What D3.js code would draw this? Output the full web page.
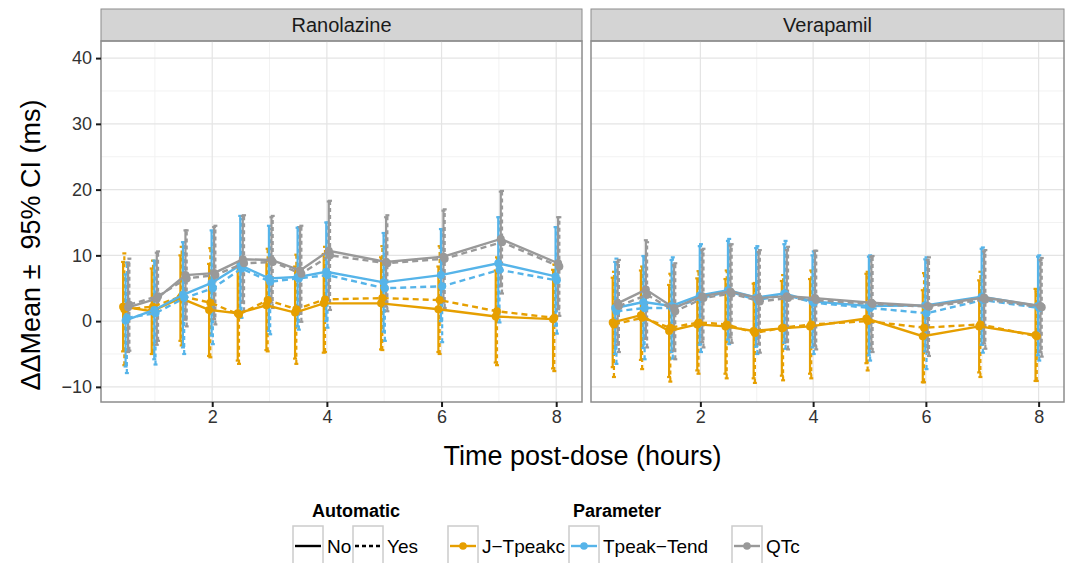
<!DOCTYPE html>
<html>
<head>
<meta charset="utf-8">
<script src="https://cdn.jsdelivr.net/npm/d3@7/dist/d3.min.js"></script>
<style>
  html, body { margin: 0; padding: 0; background: #fff; }
  svg { display: block; font-family: "Liberation Sans", Arial, sans-serif; }
</style>
</head>
<body>
<script>
// --- data ---
const TIMES = [0.5, 1, 1.5, 2, 2.5, 3, 3.5, 4, 5, 6, 7, 8];
const PANELS = ["Ranolazine", "Verapamil"];
const PARAMS = ["J\u2212Tpeakc", "Tpeak\u2212Tend", "QTc"];
const AUTOMATIC = ["No", "Yes"];
const X_TICKS = [2, 4, 6, 8];
const Y_TICKS = [-10, 0, 10, 20, 30, 40];

// Ranolazine means and CI half-widths
const RAN_JT_NO = [2.2, 1.5, 3.5, 1.7, 1.2, 2.4, 1.3, 2.7, 2.7, 1.8, 0.7, 0.3];
const RAN_JT_NO_CI = [6.8, 6.5, 6.5, 7.0, 7.2, 6.8, 7.0, 7.5, 7.0, 6.5, 7.0, 7.5];
const RAN_JT_YES = [1.8, 2.2, 3.8, 2.8, 1.0, 3.2, 1.8, 3.3, 3.5, 3.2, 1.5, 0.5];
const RAN_JT_YES_CI = [8.5, 7.0, 7.5, 8.3, 7.5, 7.8, 8.3, 8.0, 7.9, 8.2, 8.2, 8.1];
const RAN_TT_NO = [0.1, 1.7, 4.0, 5.8, 8.5, 6.5, 6.7, 7.5, 5.9, 7.0, 8.8, 6.8];
const RAN_TT_NO_CI = [7.0, 7.5, 8.0, 8.0, 7.5, 8.0, 7.5, 7.5, 7.5, 7.0, 7.0, 7.5];
const RAN_TT_YES = [0.5, 1.2, 3.5, 5.0, 8.0, 6.0, 6.5, 7.0, 5.0, 5.3, 7.8, 6.2];
const RAN_TT_YES_CI = [8.4, 7.8, 8.5, 8.5, 7.5, 8.0, 7.8, 8.0, 8.0, 8.5, 8.0, 8.1];
const RAN_QT_NO = [2.1, 3.4, 7.0, 7.3, 9.4, 9.3, 7.7, 10.7, 9.0, 9.8, 12.5, 8.8];
const RAN_QT_NO_CI = [6.8, 7.0, 6.8, 7.0, 6.6, 6.5, 6.6, 7.5, 6.8, 7.0, 7.2, 7.0];
const RAN_QT_YES = [2.5, 3.8, 6.5, 7.0, 8.8, 9.0, 7.2, 10.0, 8.8, 9.5, 12.0, 8.3];
const RAN_QT_YES_CI = [7.0, 6.8, 7.3, 7.5, 7.3, 7.0, 7.3, 8.3, 7.3, 7.5, 7.8, 7.5];

// Verapamil means and CI half-widths
const VER_JT_NO = [-0.2, 0.9, -1.5, -0.5, -0.8, -1.5, -1.1, -0.8, 0.4, -2.3, -0.8, -2.1];
const VER_JT_NO_CI = [6.8, 6.8, 7.0, 7.0, 7.2, 7.2, 7.2, 7.2, 6.8, 7.0, 7.0, 7.0];
const VER_JT_YES = [-0.5, 0.5, -1.0, -0.2, -0.5, -1.8, -1.0, -0.5, 0.0, -1.0, -0.5, -2.3];
const VER_JT_YES_CI = [8.0, 7.8, 8.2, 7.8, 8.2, 7.6, 8.0, 8.2, 7.5, 8.3, 8.0, 6.8];
const VER_TT_NO = [2.0, 2.9, 2.3, 3.9, 4.7, 3.6, 4.2, 3.0, 2.3, 2.4, 3.7, 2.3];
const VER_TT_NO_CI = [7.0, 7.0, 7.0, 7.5, 7.5, 7.5, 7.5, 7.0, 7.5, 7.0, 7.3, 7.5];
const VER_TT_YES = [1.5, 2.0, 2.0, 3.5, 4.5, 3.2, 4.0, 2.8, 2.0, 1.2, 3.2, 2.0];
const VER_TT_YES_CI = [8.0, 7.8, 7.7, 8.2, 8.0, 8.2, 8.2, 7.8, 8.0, 8.5, 8.0, 8.0];
const VER_QT_NO = [2.7, 4.8, 2.0, 3.8, 4.5, 3.5, 3.8, 3.5, 2.8, 2.3, 3.6, 2.3];
const VER_QT_NO_CI = [6.3, 7.5, 6.5, 7.0, 7.0, 7.0, 7.0, 7.2, 7.0, 7.0, 7.0, 7.0];
const VER_QT_YES = [2.3, 4.0, 1.5, 3.5, 4.2, 3.0, 3.5, 3.2, 2.6, 2.2, 3.3, 2.1];
const VER_QT_YES_CI = [7.0, 8.0, 7.3, 7.5, 7.5, 7.8, 7.8, 7.5, 7.3, 7.5, 7.5, 7.5];

const COLORS = ["#E69F00", "#56B4E9", "#999999"];

// panel -> param -> automatic
const RAW = {
  Ranolazine: [
    [[RAN_JT_NO, RAN_JT_NO_CI], [RAN_JT_YES, RAN_JT_YES_CI]],
    [[RAN_TT_NO, RAN_TT_NO_CI], [RAN_TT_YES, RAN_TT_YES_CI]],
    [[RAN_QT_NO, RAN_QT_NO_CI], [RAN_QT_YES, RAN_QT_YES_CI]],
  ],
  Verapamil: [
    [[VER_JT_NO, VER_JT_NO_CI], [VER_JT_YES, VER_JT_YES_CI]],
    [[VER_TT_NO, VER_TT_NO_CI], [VER_TT_YES, VER_TT_YES_CI]],
    [[VER_QT_NO, VER_QT_NO_CI], [VER_QT_YES, VER_QT_YES_CI]],
  ],
};

function seriesFor(panel) {
  const out = [];
  PARAMS.forEach((param, pi) => {
    AUTOMATIC.forEach((auto, ai) => {
      const [m, ci] = RAW[panel][pi][ai];
      out.push({
        param, pi, auto, ai, idx: pi * 2 + ai,
        values: TIMES.map((t, i) => ({ t, mean: m[i], lo: m[i] - ci[i], hi: m[i] + ci[i] })),
      });
    });
  });
  return out;
}

// --- layout ---
const W = 1073, H = 563;
const panelBoxes = [
  { x0: 101, x1: 582 },
  { x0: 591, x1: 1064 },
];
const stripTop = 9, plotTop = 41, plotBottom = 402;
const DODGE = 0.022;
const FONT = "Liberation Sans, Arial, sans-serif";

const svg = d3.select("body").append("svg")
  .attr("width", W).attr("height", H)
  .attr("viewBox", `0 0 ${W} ${H}`);

svg.append("rect").attr("width", W).attr("height", H).attr("fill", "white");

const y = d3.scaleLinear().domain([-12.3, 42.6]).range([plotBottom, plotTop]);
const fmt = (d) => (d < 0 ? "\u2212" + Math.abs(d) : String(d));

PANELS.forEach((panel, k) => {
  const box = panelBoxes[k];
  const x = d3.scaleLinear().domain([0.06, 8.45]).range([box.x0, box.x1]);
  const g = svg.append("g");

  // strip
  g.append("rect")
    .attr("x", box.x0).attr("y", stripTop)
    .attr("width", box.x1 - box.x0).attr("height", plotTop - stripTop)
    .attr("fill", "#d4d4d4").attr("stroke", "#8c8c8c").attr("stroke-width", 1);
  g.append("text")
    .attr("x", (box.x0 + box.x1) / 2).attr("y", (stripTop + plotTop) / 2 + 7)
    .attr("text-anchor", "middle").attr("font-size", 20).attr("fill", "#1a1a1a")
    .text(panel);

  // grid
  const minorY = d3.range(-10, 45, 10).map((d) => d - 5).filter((d) => d > -12.3);
  g.append("g").selectAll("line").data(minorY).join("line")
    .attr("x1", box.x0).attr("x2", box.x1)
    .attr("y1", (d) => y(d)).attr("y2", (d) => y(d))
    .attr("stroke", "#f2f2f2").attr("stroke-width", 1);
  g.append("g").selectAll("line").data([1, 3, 5, 7]).join("line")
    .attr("y1", plotTop).attr("y2", plotBottom)
    .attr("x1", (d) => x(d)).attr("x2", (d) => x(d))
    .attr("stroke", "#f2f2f2").attr("stroke-width", 1);
  g.append("g").selectAll("line").data(Y_TICKS).join("line")
    .attr("x1", box.x0).attr("x2", box.x1)
    .attr("y1", (d) => y(d)).attr("y2", (d) => y(d))
    .attr("stroke", "#e4e4e4").attr("stroke-width", 1.2);
  g.append("g").selectAll("line").data(X_TICKS).join("line")
    .attr("y1", plotTop).attr("y2", plotBottom)
    .attr("x1", (d) => x(d)).attr("x2", (d) => x(d))
    .attr("stroke", "#e4e4e4").attr("stroke-width", 1.2);

  // series
  const series = seriesFor(panel);
  const xd = (s, t) => x(t + (s.idx - 2.5) * DODGE);
  const line = (s) => d3.line().x((d) => xd(s, d.t)).y((d) => y(d.mean));

  // error bars
  series.forEach((s) => {
    const eg = g.append("g")
      .attr("stroke", COLORS[s.pi]).attr("stroke-width", 2.2);
    eg.selectAll("line.v").data(s.values).join("line").attr("class", "v")
      .attr("stroke-dasharray", s.ai ? "4,3" : null)
      .attr("x1", (d) => xd(s, d.t)).attr("x2", (d) => xd(s, d.t))
      .attr("y1", (d) => y(d.lo)).attr("y2", (d) => y(d.hi));
    eg.selectAll("line.c1").data(s.values).join("line").attr("class", "c1")
      .attr("x1", (d) => xd(s, d.t) - 2).attr("x2", (d) => xd(s, d.t) + 2)
      .attr("y1", (d) => y(d.hi)).attr("y2", (d) => y(d.hi));
    eg.selectAll("line.c2").data(s.values).join("line").attr("class", "c2")
      .attr("x1", (d) => xd(s, d.t) - 2).attr("x2", (d) => xd(s, d.t) + 2)
      .attr("y1", (d) => y(d.lo)).attr("y2", (d) => y(d.lo));
  });

  // lines + points
  series.forEach((s) => {
    g.append("path").datum(s.values)
      .attr("d", line(s))
      .attr("fill", "none").attr("stroke", COLORS[s.pi]).attr("stroke-width", 2.4)
      .attr("stroke-dasharray", s.ai ? "6,4" : null);
    g.append("g").selectAll("circle").data(s.values).join("circle")
      .attr("cx", (d) => xd(s, d.t)).attr("cy", (d) => y(d.mean))
      .attr("r", 4).attr("fill", COLORS[s.pi]);
  });

  // panel border
  g.append("rect")
    .attr("x", box.x0).attr("y", plotTop)
    .attr("width", box.x1 - box.x0).attr("height", plotBottom - plotTop)
    .attr("fill", "none").attr("stroke", "#8c8c8c").attr("stroke-width", 1.5);

  // x axis
  const xa = g.append("g").attr("transform", `translate(0,${plotBottom})`)
    .call(d3.axisBottom(x).tickValues(X_TICKS).tickSize(5).tickPadding(3));
  xa.select(".domain").remove();
  xa.selectAll("line").attr("stroke", "#1a1a1a").attr("stroke-width", 2);
  xa.selectAll("text").attr("font-size", 18).attr("fill", "#333").attr("font-family", FONT);

  // y axis on first panel only
  if (k === 0) {
    const ya = g.append("g").attr("transform", `translate(${box.x0},0)`)
      .call(d3.axisLeft(y).tickValues(Y_TICKS).tickFormat(fmt).tickSize(5).tickPadding(4));
    ya.select(".domain").remove();
    ya.selectAll("line").attr("stroke", "#1a1a1a").attr("stroke-width", 2);
    ya.selectAll("text").attr("font-size", 18).attr("fill", "#333").attr("font-family", FONT);
  }
});

// axis titles
svg.append("text")
  .attr("x", (panelBoxes[0].x0 + panelBoxes[1].x1) / 2).attr("y", 465)
  .attr("text-anchor", "middle").attr("font-size", 27).attr("fill", "#000")
  .text("Time post-dose (hours)");
svg.append("text")
  .attr("transform", `translate(40,245) rotate(-90)`)
  .attr("text-anchor", "middle").attr("font-size", 27).attr("fill", "#000")
  .attr("xml:space", "preserve").style("white-space", "pre")
  .text("\u0394\u0394Mean \u00b1  95% CI (ms)");

// legends
const legY = 526, keyW = 30, keyH = 38;
svg.append("text").attr("x", 312).attr("y", 517)
  .attr("font-size", 18).attr("font-weight", 700).text("Automatic");
svg.append("text").attr("x", 573).attr("y", 517)
  .attr("font-size", 18).attr("font-weight", 700).text("Parameter");

const autoKeys = [
  { x: 293, label: AUTOMATIC[0], dash: null, color: "#000", pt: false },
  { x: 353, label: AUTOMATIC[1], dash: "4,3", color: "#000", pt: false },
];
const paramKeys = PARAMS.map((p, i) => ({
  x: [448, 569, 732][i], label: p, dash: null, color: COLORS[i], pt: true,
}));

[...autoKeys, ...paramKeys].forEach((kd) => {
  const kg = svg.append("g");
  kg.append("rect").attr("x", kd.x).attr("y", legY)
    .attr("width", keyW).attr("height", keyH)
    .attr("fill", "white").attr("stroke", "#cccccc").attr("stroke-width", 1.5);
  kg.append("line")
    .attr("x1", kd.x + 2).attr("x2", kd.x + keyW - 2)
    .attr("y1", legY + 20).attr("y2", legY + 20)
    .attr("stroke", kd.color).attr("stroke-width", 2.4)
    .attr("stroke-dasharray", kd.dash);
  if (kd.pt) {
    kg.append("circle").attr("cx", kd.x + keyW / 2).attr("cy", legY + 20)
      .attr("r", 3.8).attr("fill", kd.color);
  }
  kg.append("text").attr("x", kd.x + keyW + 4).attr("y", legY + 27)
    .attr("font-size", 19).attr("fill", "#000").text(kd.label);
});
</script>
</body>
</html>
